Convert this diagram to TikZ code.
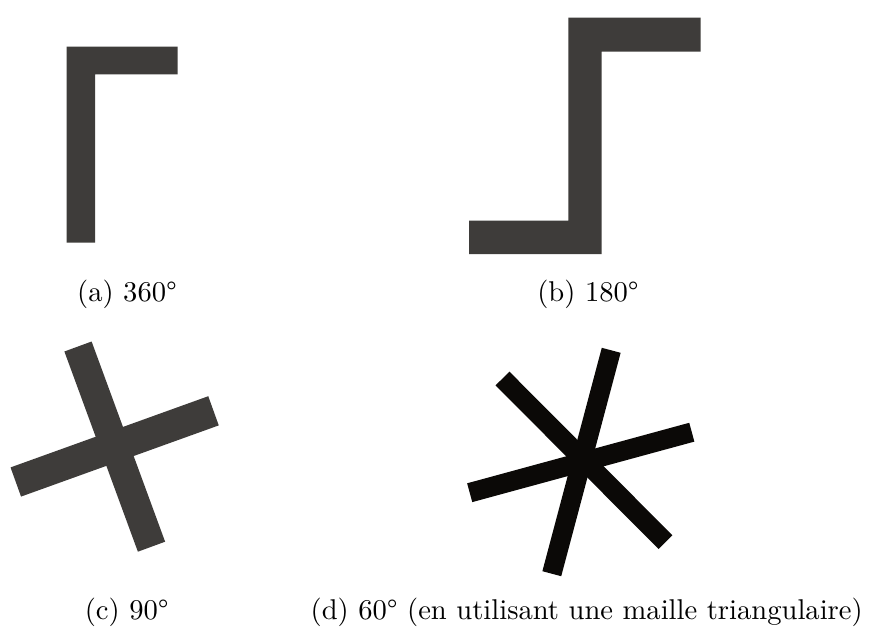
\documentclass[tikz,border=0pt]{standalone}
\usepackage{fontspec}
\newfontfamily\capfont{lmroman10-regular.otf}
\definecolor{bargray}{HTML}{3E3C3A}
\definecolor{barblack}{HTML}{0B0907}
\begin{document}
\begin{tikzpicture}[x=1pt,y=-1pt,
  caption/.style={anchor=base,inner sep=0pt,font=\capfont\fontsize{28.6}{34}\selectfont},
  graybar/.style={draw=none,fill=bargray},
  barc/.style={bargray,line cap=butt},
  bard/.style={barblack,line cap=butt,line width=19.5pt}]
\useasboundingbox[fill=white] (0,0) rectangle (873,632);
% (a)
\fill[graybar] (66.7,46.7) -- (177.7,46.7) -- (177.7,74.3) -- (95,74.3) -- (95,242.7) -- (66.7,242.7) -- cycle;
% (b)
\fill[graybar] (568.3,17.7) -- (700.7,17.7) -- (700.7,51.7) -- (601.7,51.7) -- (601.7,254) -- (469,254) -- (469,220.7) -- (568.3,220.7) -- cycle;
% (c)
\draw[barc,line width=29pt] (78,346.5) -- (151.5,546.7);
\draw[barc,line width=31pt] (15.8,482) -- (213.5,410.8);
% (d)
\draw[bard] (611.2,350.3) -- (551.8,573.7);
\draw[bard] (469.7,492.7) -- (691.8,432.2);
\draw[bard] (502.5,378.5) -- (665.5,542.2);
% captions
\node[caption] (capa) at (127,301.7) {(a) 360°};
\node[caption] (capb) at (588,301.7) {(b) 180°};
\node[caption] (capc) at (126.7,619.3) {(c) 90°};
\node[caption] (capd) at (586.7,619.3) {(d) 60° (en utilisant une maille triangulaire)};
\end{tikzpicture}
\end{document}
